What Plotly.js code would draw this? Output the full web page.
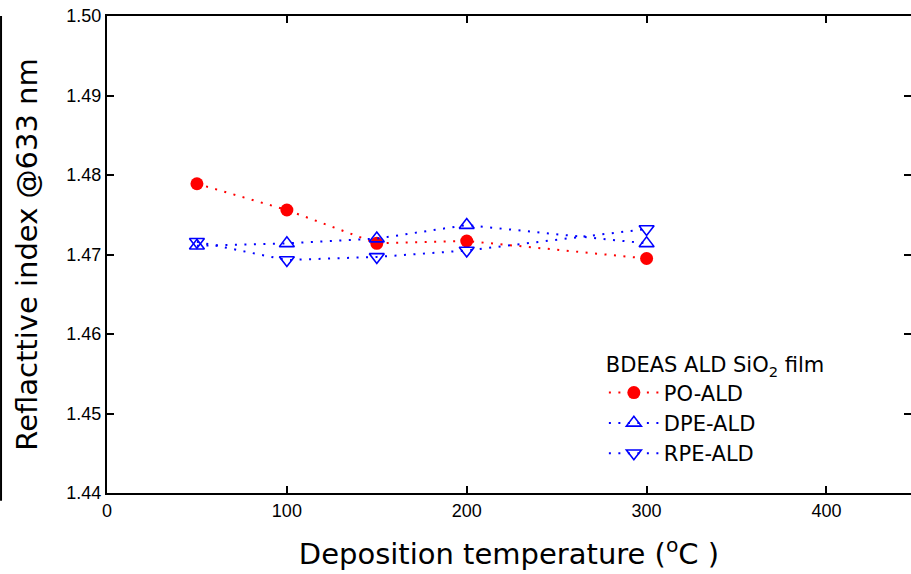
<!DOCTYPE html>
<html>
<head>
<meta charset="utf-8">
<script src="https://cdn.plot.ly/plotly-3.0.1.min.js"></script>
<style>html,body{margin:0;padding:0;background:#fff;}#chart{width:911px;height:574px;}</style>
</head>
<body>
<div id="chart"></div>
<script>
// Deposition temperature (°C)
const temps = [50, 100, 150, 200, 300];
// Refractive index @633 nm
const poALD  = [1.4789, 1.4756, 1.4714, 1.4717, 1.4695];
const dpeALD = [1.4711, 1.4714, 1.4720, 1.4737, 1.4714];
const rpeALD = [1.4716, 1.4693, 1.4697, 1.4705, 1.4732];
const seriesNames = ['PO-ALD', 'DPE-ALD', 'RPE-ALD'];
const xTicks = [0, 100, 200, 300, 400];
const yTicks = [1.44, 1.45, 1.46, 1.47, 1.48, 1.49, 1.50];

const dotted = '2px,7.5px';
const traces = [
  {x: temps, y: poALD, name: seriesNames[0], type: 'scatter', mode: 'lines+markers',
   line: {color: '#ff0000', width: 2, dash: dotted},
   marker: {symbol: 'circle', size: 13, color: '#ff0000'}},
  {x: temps, y: dpeALD, name: seriesNames[1], type: 'scatter', mode: 'lines+markers',
   line: {color: '#0000ff', width: 2, dash: dotted},
   marker: {symbol: 'triangle-up-open', size: 13, color: '#0000ff', line: {width: 1.6, color: '#0000ff'}}},
  {x: temps, y: rpeALD, name: seriesNames[2], type: 'scatter', mode: 'lines+markers',
   line: {color: '#0000ff', width: 2, dash: dotted},
   marker: {symbol: 'triangle-down-open', size: 13, color: '#0000ff', line: {width: 1.6, color: '#0000ff'}}}
];

const tickFont = {family: 'Liberation Sans, Arial, sans-serif', size: 18, color: '#000'};
const titleFont = {family: 'DejaVu Sans, sans-serif', size: 29, color: '#000'};

const layout = {
  width: 911, height: 574,
  margin: {l: 107, r: 0, t: 16, b: 81},
  paper_bgcolor: '#fff', plot_bgcolor: '#fff',
  showlegend: true,
  xaxis: {
    range: [0, 447], tickvals: xTicks, ticktext: xTicks.map(String),
    ticks: 'inside', ticklen: 7, tickwidth: 2, tickcolor: '#000',
    showline: true, linewidth: 2, linecolor: '#000', mirror: 'ticks',
    showgrid: false, zeroline: false, tickfont: tickFont,
    title: {text: 'Deposition temperature (<sup>o</sup>C )', font: titleFont, standoff: 24}
  },
  yaxis: {
    range: [1.44, 1.50], tickvals: yTicks, ticktext: yTicks.map(v => v.toFixed(2)),
    ticks: 'inside', ticklen: 7, tickwidth: 2, tickcolor: '#000',
    showline: true, linewidth: 2, linecolor: '#000', mirror: 'ticks',
    showgrid: false, zeroline: false, tickfont: tickFont,
    title: {text: 'Reflacttive index @633 nm', font: titleFont, standoff: 20}
  },
  legend: {
    x: 0.618, y: 0.31, xanchor: 'left', yanchor: 'top',
    bgcolor: 'rgba(0,0,0,0)', borderwidth: 0,
    itemwidth: 50,
    font: {family: 'DejaVu Sans, sans-serif', size: 21, color: '#000'},
    title: {text: 'BDEAS ALD SiO<sub>2</sub> film', font: {family: 'DejaVu Sans, sans-serif', size: 21, color: '#000'}},
    tracegroupgap: 0
  },
  shapes: [
    {type: 'line', xref: 'paper', yref: 'paper', x0: -0.1318, x1: -0.1318, y0: -0.016, y1: 1.0,
     line: {color: '#000', width: 2}}
  ]
};

Plotly.newPlot('chart', traces, layout, {displayModeBar: false, staticPlot: true});
</script>
</body>
</html>
